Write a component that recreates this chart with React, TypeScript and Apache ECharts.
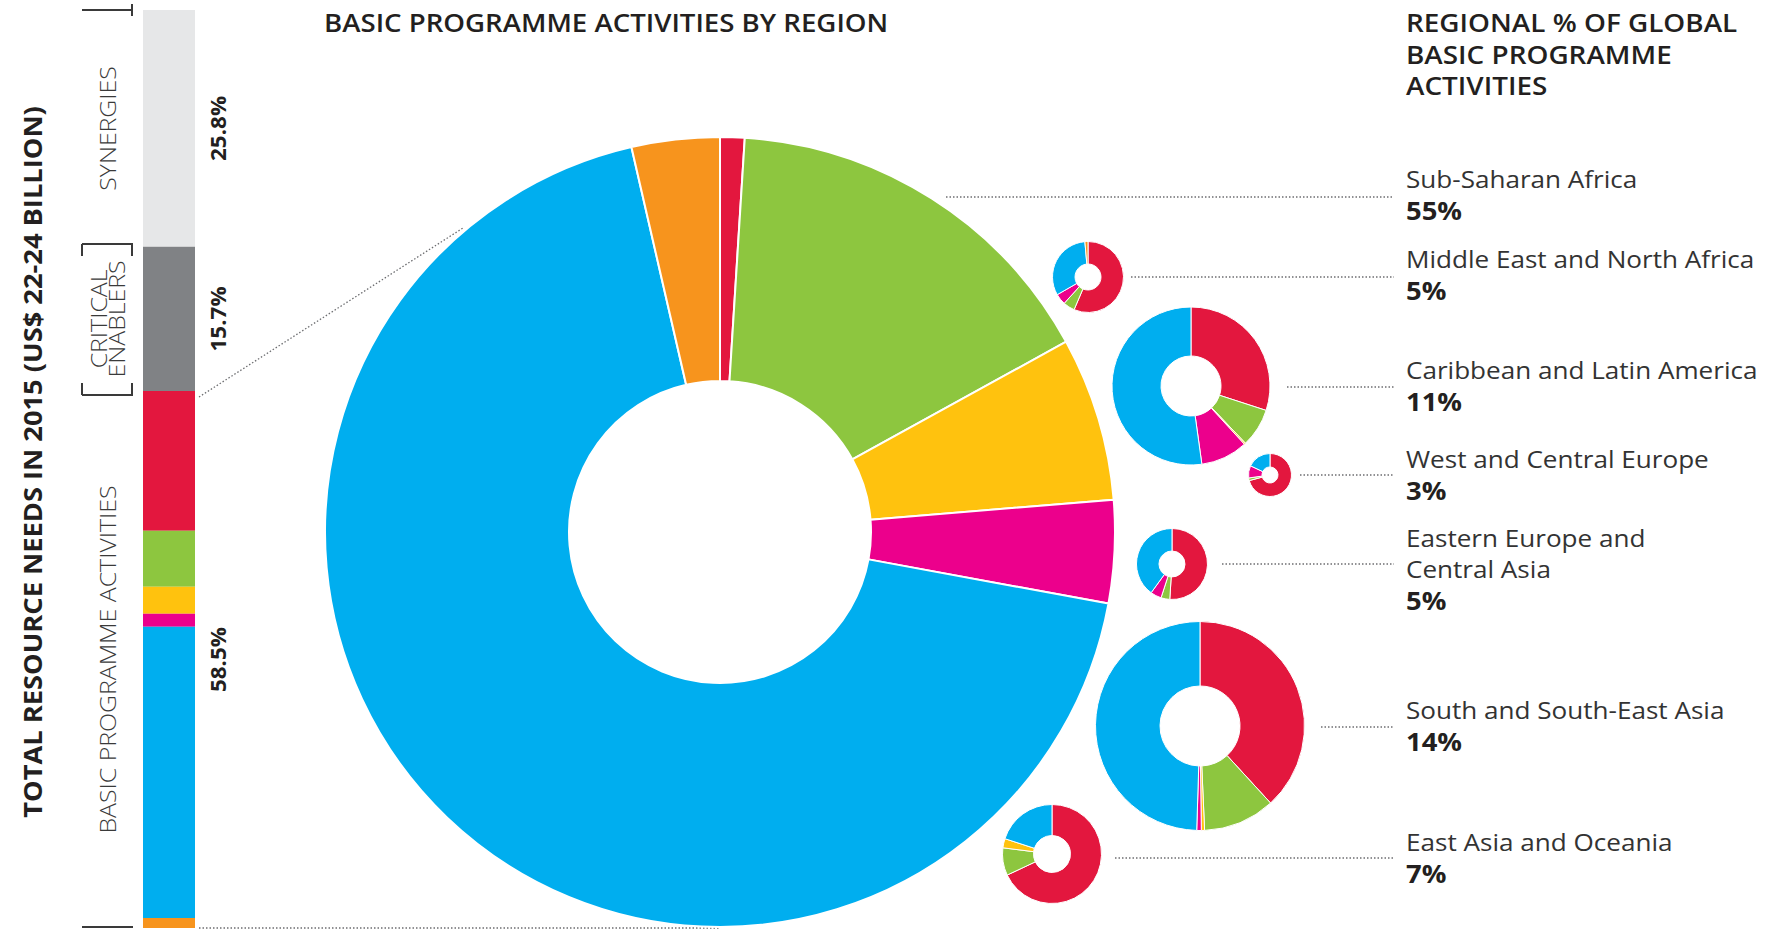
import React, { useEffect, useRef } from "react";
import * as echarts from "echarts";

// ---------- DATA ----------
// Activity colours (order: red, green, yellow, pink, blue, orange)
const activityColors = ["#E3173E", "#8DC63F", "#FFC20E", "#EC008C", "#00AEEF", "#F7941D"];

// Left stacked bar: total resource needs in 2015
const groupNames = ["SYNERGIES", "CRITICAL\nENABLERS", "BASIC PROGRAMME ACTIVITIES"];
const groupShares = [25.8, 15.7, 58.5];
const groupColors = ["#E6E7E8", "#808285"];
// Basic programme activities split (sums to 58.5)
const basicSplit = [15.24, 6.08, 2.95, 1.42, 31.72, 1.09];

// Regions
const regionNames = [
  "Sub-Saharan Africa",
  "Middle East and North Africa",
  "Caribbean and Latin America",
  "West and Central Europe",
  "Eastern Europe and\nCentral Asia",
  "South and South-East Asia",
  "East Asia and Oceania",
];
const regionShares = [55, 5, 11, 3, 5, 14, 7];

// Activity mix of each region's basic programme activities (red, green, yellow, pink, blue, orange)
const mixSubSaharanAfrica = [1.0, 16.0, 6.7, 4.2, 68.5, 3.6];
const mixMiddleEast = [56.4, 5.3, 0, 5.0, 31.9, 1.4];
const mixCaribbean = [30.0, 7.9, 0.3, 9.6, 52.2, 0];
const mixWestEurope = [70.8, 2.0, 0, 9.2, 18.0, 0];
const mixEasternEurope = [51.0, 4.0, 0, 5.0, 40.0, 0];
const mixSouthAsia = [38.2, 11.1, 0.5, 0.7, 49.5, 0];
const mixEastAsia = [68.0, 9.0, 3.0, 0, 20.0, 0];

const regionMixes = [
  mixSubSaharanAfrica,
  mixMiddleEast,
  mixCaribbean,
  mixWestEurope,
  mixEasternEurope,
  mixSouthAsia,
  mixEastAsia,
];

// ---------- LAYOUT ----------
const donutLayout = [
  { c: [720, 532], r: [151, 395], bw: 2 },
  { c: [1088, 277], r: [13, 35.5], bw: 1 },
  { c: [1191, 386], r: [30, 79], bw: 1 },
  { c: [1270, 475], r: [8, 21.5], bw: 1 },
  { c: [1172, 564], r: [13, 35.5], bw: 1 },
  { c: [1200, 726], r: [40, 104.5], bw: 1 },
  { c: [1052, 854], r: [18.5, 49.5], bw: 1 },
];
const leaderLines = [
  { x1: 946, x2: 1394, y: 197 },
  { x1: 1131, x2: 1394, y: 277 },
  { x1: 1287, x2: 1394, y: 387 },
  { x1: 1300, x2: 1394, y: 475 },
  { x1: 1222, x2: 1394, y: 564 },
  { x1: 1321, x2: 1394, y: 727 },
  { x1: 1115, x2: 1394, y: 858 },
];
const labelCenters = [178, 258, 369, 458, 537, 709, 841];
const LINE = 31.3;
const LABEL_X = 1406;

const FONT = "'Open Sans', Lato, sans-serif";
const TXT = "#231F20";

export default function App() {
  const ref = useRef<HTMLDivElement>(null);

  useEffect(() => {
    if (!ref.current) return;
    const chart = echarts.init(ref.current, undefined, { renderer: "svg" });

    // Left bar series
    const barValues = [groupShares[0], groupShares[1], ...basicSplit];
    const barColors = [...groupColors, ...activityColors];
    const barSeries = barValues.map((v, i) => ({
      type: "bar",
      stack: "total",
      barWidth: "100%",
      silent: true,
      data: [v],
      itemStyle: { color: barColors[i] },
    }));

    // Donuts
    const pieSeries = regionMixes.map((mix, k) => ({
      type: "pie",
      center: donutLayout[k].c,
      radius: donutLayout[k].r,
      startAngle: 90,
      clockwise: true,
      silent: true,
      label: { show: false },
      labelLine: { show: false },
      itemStyle: { borderColor: "#fff", borderWidth: donutLayout[k].bw },
      data: mix
        .map((v, i) => ({ value: v, name: String(i), itemStyle: { color: activityColors[i] } }))
        .filter((d) => d.value > 0),
    }));

    // Bar segment centres for group labels
    const barTop = 10;
    const barH = 918;
    const groupCenters: number[] = [];
    let acc = 0;
    groupShares.forEach((s) => {
      groupCenters.push(barTop + ((acc + s / 2) / 100) * barH);
      acc += s;
    });

    const dotted = { stroke: "#6d6e71", lineWidth: 1.3, lineDash: [1.5, 2] };
    const graphics: any[] = [];

    const txt = (x: number, y: number, text: string, font: string, extra: any = {}) => ({
      type: "text",
      x,
      y,
      ...extra,
      style: {
        text,
        font,
        fill: TXT,
        align: "left",
        verticalAlign: "middle",
        ...(extra.style || {}),
      },
    });

    // Main vertical title
    graphics.push(
      txt(32, 462, "TOTAL RESOURCE NEEDS IN 2015 (US$ 22-24 BILLION)", `700 25.5px ${FONT}`, {
        rotation: Math.PI / 2,
        scaleX: 1.07,
        style: { align: "center" },
      })
    );

    // Group names + percentages
    groupNames.forEach((n, i) => {
      graphics.push(
        txt(108, groupCenters[i], n, `300 22px ${FONT}`, {
          rotation: Math.PI / 2,
          scaleX: 1.13,
          style: { align: "center", fill: "#3a3a3a", lineHeight: 18 },
        })
      );
      graphics.push(
        txt(218, groupCenters[i], groupShares[i].toFixed(1) + "%", `700 21px ${FONT}`, {
          rotation: Math.PI / 2,
          scaleX: 1.07,
          style: { align: "center" },
        })
      );
    });

    // Brackets
    const bk = { stroke: "#3a3a3a", lineWidth: 2 };
    const bracketYs = [10, 244, 395, 927];
    bracketYs.forEach((y) => {
      graphics.push({ type: "line", shape: { x1: 82, y1: y, x2: 133, y2: y }, style: bk });
    });
    graphics.push({ type: "line", shape: { x1: 132, y1: 4, x2: 132, y2: 16 }, style: bk });
    [82, 132].forEach((x) => {
      graphics.push({ type: "line", shape: { x1: x, y1: 244, x2: x, y2: 256 }, style: bk });
      graphics.push({ type: "line", shape: { x1: x, y1: 383, x2: x, y2: 395 }, style: bk });
    });

    // Connector lines from bar to big donut
    graphics.push({ type: "line", shape: { x1: 199, y1: 397, x2: 463, y2: 228 }, style: dotted });
    graphics.push({ type: "line", shape: { x1: 199, y1: 928, x2: 720, y2: 928 }, style: dotted });

    // Titles
    graphics.push(txt(324, 23, "BASIC PROGRAMME ACTIVITIES BY REGION", `600 25px ${FONT}`, { scaleX: 1.105 }));
    ["REGIONAL % OF GLOBAL", "BASIC PROGRAMME", "ACTIVITIES"].forEach((t, j) => {
      graphics.push(txt(LABEL_X, 22.6 + j * 31.6, t, `600 25px ${FONT}`, { scaleX: 1.115 }));
    });

    // Region labels
    regionNames.forEach((n, i) => {
      const lines = n.split("\n");
      lines.forEach((ln, j) => {
        graphics.push(
          txt(LABEL_X, labelCenters[i] + j * LINE, ln, `400 24.5px ${FONT}`, {
            scaleX: 1.065,
            style: { fill: "#333333" },
          })
        );
      });
      graphics.push(
        txt(LABEL_X, labelCenters[i] + lines.length * LINE + 1, regionShares[i] + "%", `700 24.5px ${FONT}`, {
          scaleX: 1.12,
        })
      );
    });

    leaderLines.forEach((l) => {
      graphics.push({ type: "line", shape: { x1: l.x1, y1: l.y, x2: l.x2, y2: l.y }, style: dotted });
    });

    chart.setOption({
      animation: false,
      backgroundColor: "#ffffff",
      grid: { left: 143, top: barTop, width: 52, height: barH, containLabel: false },
      xAxis: { type: "category", data: ["total"], show: false },
      yAxis: { type: "value", min: 0, max: 100, inverse: true, show: false },
      series: [...barSeries, ...pieSeries],
      graphic: { elements: graphics },
    });

    return () => chart.dispose();
  }, []);

  return (
    <div
      ref={ref}
      style={{ position: "absolute", left: 0, top: 0, width: 1767, height: 930, background: "#fff" }}
    />
  );
}
